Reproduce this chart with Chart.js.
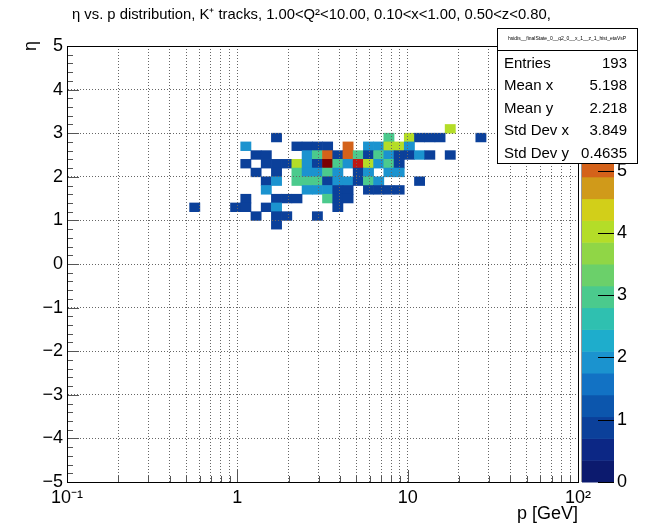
<!DOCTYPE html>
<html><head><meta charset="utf-8">
<script src="https://cdn.jsdelivr.net/npm/chart.js@4.4.1/dist/chart.umd.min.js"></script>
<style>html,body{margin:0;padding:0;background:#fff;}#wrap{width:645px;height:526px;position:relative;}</style>
</head><body><div id="wrap"><canvas id="c" width="645" height="526"></canvas></div>
<script>
// ---- histogram binning ----
const pMin = 0.1, pMax = 100, pBinCount = 50;      // log-spaced p bins
const etaMin = -5, etaMax = 5, etaBinWidth = 0.2;
const zMax = 7, nContours = 20;

// ---- data: eta rows (lower bin edge), p-bin indices in that row, counts ----
const etaRowLow = [3.0, 2.8, 2.6, 2.4, 2.2, 2.0, 1.8, 1.6, 1.4, 1.2, 1.0, 0.8];
const pBinIndex = [
  [37],
  [20,31,33,34,35,36,40],
  [17,22,23,24,25,27,29,30,31,32,33],
  [18,19,23,24,25,26,27,28,29,30,31,32,33,34,35,37],
  [17,19,20,21,22,23,24,25,26,27,28,29,30,31,32],
  [18,20,22,23,24,25,26,28,29,31,32],
  [19,20,22,23,24,25,26,27,28,29,30,34],
  [19,23,24,25,26,27,29,30,31,32],
  [17,20,21,22,25,26,27],
  [12,16,17,19,20,26],
  [18,20,21,24],
  [20]
];
const binCounts = [
  [4],
  [1,3,4,1,1,1,1],
  [2,1,1,1,1,5,2,2,4,4,2],
  [1,1,2,3,5,1,5,3,1,3,2,1,1,2,1,1],
  [1,1,1,1,4,2,1,7,3,2,6,4,2,3,1],
  [1,1,3,2,2,3,2,1,2,2,2],
  [1,2,3,3,3,1,2,2,1,3,2,1],
  [2,2,2,2,1,1,1,1,1,1],
  [1,1,1,1,3,1,1],
  [1,1,1,1,2,1],
  [1,1,1,1],
  [1]
];

// ---- palette (20 contour bands from 0 to zMax) ----
const paletteColors = ['#0c1a6e','#0c2785','#0b409a','#0c56ad','#1272c4','#1b93cf','#1eadcc','#2fc0b0',
  '#4bca8d','#6bd06a','#90d646','#b4dd28','#d2cf19','#d09a1a','#d4621a','#cf4814','#c73114','#bf1814','#9c0a08','#7a0000'];

// ---- text ----
const titleText = 'η vs. p distribution, K⁺ tracks, 1.00<Q²<10.00, 0.10<x<1.00, 0.50<z<0.80,';
const xTitle = 'p [GeV]';
const yTitle = 'η';
const xTickValues = [0.1, 1, 10, 100];
const xTickLabels = ['10⁻¹', '1', '10', '10²'];
const yTickValues = [-5,-4,-3,-2,-1,0,1,2,3,4,5];
const zTickValues = [0,1,2,3,4,5,6,7];
const statsTitle = 'hsidis__finalState_0__q2_0__x_1__z_1_hist_etaVsP';
const statsLabels = ['Entries','Mean x','Mean y','Std Dev x','Std Dev y'];
const statsValues = ['193','5.198','2.218','3.849','0.4635'];

// ---- build chart data ----
const pEdge = k => pMin * Math.pow(pMax / pMin, k / pBinCount);
const cells = [];
etaRowLow.forEach((eta, r) => {
  pBinIndex[r].forEach((k, i) => {
    cells.push({ y: eta + etaBinWidth / 2, x: [pEdge(k), pEdge(k + 1)], v: binCounts[r][i] });
  });
});
const colorFor = v => {
  let b = Math.floor(v / (zMax / nContours) + 1e-9);
  if (b > nContours - 1) b = nContours - 1;
  if (b < 0) b = 0;
  return paletteColors[b];
};
const xGridValues = [];
for (let e = -1; e < 2; e++) for (let m = 1; m <= 9; m++) xGridValues.push(+(m * Math.pow(10, e)).toPrecision(6));
xGridValues.push(100);

const FONT = '"Liberation Sans", Arial, Helvetica, sans-serif';
const fmtNum = v => (v < 0 ? '\u2212' + Math.abs(v) : String(v));

const decor = {
  id: 'decor',
  afterDraw(chart) {
    const c = chart.ctx, a = chart.chartArea, xs = chart.scales.x, ys = chart.scales.y, zs = chart.scales.z;
    c.save();
    // inward tick marks
    c.strokeStyle = '#555'; c.lineWidth = 1;
    c.beginPath();
    for (let i = 0; i <= (etaMax - etaMin) / etaBinWidth; i++) {
      const v = etaMin + i * etaBinWidth;
      const py = Math.round(ys.getPixelForValue(v)) + 0.5;
      const major = Math.abs(v - Math.round(v)) < 1e-6;
      c.moveTo(a.left, py); c.lineTo(a.left + (major ? 12 : 6), py);
    }
    xGridValues.forEach(v => {
      const px = Math.round(xs.getPixelForValue(v)) + 0.5;
      const major = xTickValues.some(t => Math.abs(t - v) / t < 1e-6);
      c.moveTo(px, a.bottom); c.lineTo(px, a.bottom - (major ? 12 : 6));
    });
    c.stroke();
    // frame
    c.strokeStyle = '#000';
    c.strokeRect(Math.round(a.left) + 0.5, Math.round(a.top) + 0.5, Math.round(a.right - a.left), Math.round(a.bottom - a.top));
    // colour bar
    const bx = zs.left + 4, bw = 32;
    for (let b = 0; b < nContours; b++) {
      const y0 = zs.getPixelForValue(b * zMax / nContours), y1 = zs.getPixelForValue((b + 1) * zMax / nContours);
      c.fillStyle = paletteColors[b];
      c.fillRect(bx, y1, bw, y0 - y1 + 0.5);
    }
    c.strokeStyle = '#999';
    c.beginPath(); c.moveTo(bx - 0.5, zs.top); c.lineTo(bx - 0.5, zs.bottom); c.stroke();
    c.strokeStyle = '#000';
    c.beginPath();
    zTickValues.forEach(v => {
      const py = Math.round(zs.getPixelForValue(v)) + 0.5;
      c.moveTo(bx + bw - 16, py); c.lineTo(bx + bw, py);
    });
    c.stroke();
    // titles
    c.fillStyle = '#000';
    c.font = '14.8px ' + FONT; c.textAlign = 'left'; c.textBaseline = 'alphabetic';
    c.fillText(titleText, 72, 19);
    c.font = '18px ' + FONT; c.textAlign = 'right';
    c.fillText(xTitle, a.right, 519);
    c.save();
    c.translate(36, a.top - 5); c.rotate(-Math.PI / 2);
    c.textAlign = 'right'; c.fillText(yTitle, 0, 0);
    c.restore();
    // stats box
    const sx = 497, sy = 28, sw = 140, sh = 135;
    c.fillStyle = '#fff'; c.fillRect(sx, sy, sw, sh);
    c.strokeStyle = '#000'; c.lineWidth = 1;
    c.strokeRect(sx + 0.5, sy + 0.5, sw, sh);
    c.beginPath(); c.moveTo(sx, sy + 22.5); c.lineTo(sx + sw, sy + 22.5); c.stroke();
    c.fillStyle = '#000';
    c.font = '5px ' + FONT; c.textAlign = 'center'; c.textBaseline = 'middle';
    c.fillText(statsTitle, sx + sw / 2, sy + 11);
    c.font = '15px ' + FONT;
    statsLabels.forEach((lab, i) => {
      const ty = 63.5 + i * 22.5;
      c.textAlign = 'left'; c.fillText(lab, sx + 7, ty);
      c.textAlign = 'right'; c.fillText(statsValues[i], sx + sw - 10, ty);
    });
    c.restore();
  }
};

new Chart(document.getElementById('c'), {
  type: 'bar',
  data: { datasets: [{
    data: cells,
    backgroundColor: ctx => colorFor(ctx.raw ? ctx.raw.v : 0),
    borderWidth: 0, borderSkipped: false, barPercentage: 1, categoryPercentage: 1
  }]},
  options: {
    indexAxis: 'y', responsive: false, animation: false, events: [],
    layout: { padding: { left: 0, top: 46, right: 17, bottom: 0 } },
    plugins: { legend: { display: false }, tooltip: { enabled: false }, title: { display: false } },
    scales: {
      x: {
        type: 'logarithmic', position: 'bottom', min: pMin, max: pMax, offset: false,
        afterBuildTicks: s => { s.ticks = xGridValues.map(v => ({ value: v })); },
        afterFit: s => { s.height = 44; },
        ticks: { autoSkip: false, maxRotation: 0, minRotation: 0, padding: 5, color: '#000',
          font: { family: FONT, size: 18 },
          callback: v => { const i = xTickValues.findIndex(t => Math.abs(t - v) / t < 1e-6); return i >= 0 ? xTickLabels[i] : ''; } },
        grid: { color: '#666', lineWidth: 1, drawTicks: false, z: 1 },
        border: { display: true, color: '#000', dash: [1, 2], z: 1 }
      },
      y: {
        type: 'linear', min: etaMin, max: etaMax, offset: false,
        afterBuildTicks: s => { s.ticks = yTickValues.map(v => ({ value: v })); },
        afterFit: s => { s.width = 67; },
        ticks: { padding: 4, color: '#000', font: { family: FONT, size: 18 }, callback: v => fmtNum(v) },
        grid: { offset: false, color: '#666', lineWidth: 1, drawTicks: false, z: 1 },
        border: { display: true, color: '#000', dash: [1, 2], z: 1 }
      },
      z: {
        type: 'linear', axis: 'y', position: 'right', min: 0, max: zMax, offset: false,
        afterBuildTicks: s => { s.ticks = zTickValues.map(v => ({ value: v })); },
        afterFit: s => { s.width = 50; },
        ticks: { padding: 4, color: '#000', font: { family: FONT, size: 18 } },
        grid: { display: true, drawOnChartArea: false, drawTicks: true, tickLength: 35, color: 'rgba(0,0,0,0)' },
        border: { display: false }
      }
    }
  },
  plugins: [decor]
});
</script></body></html>
